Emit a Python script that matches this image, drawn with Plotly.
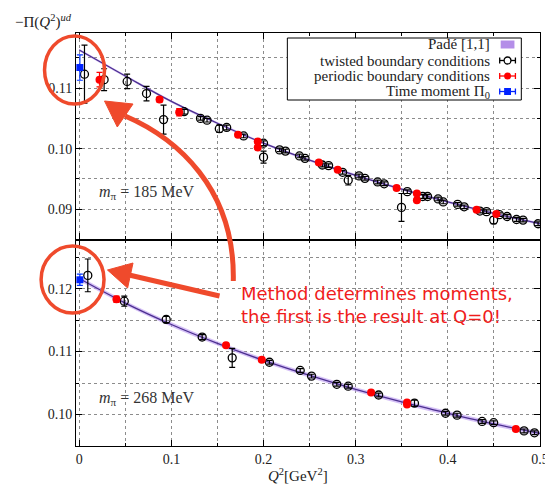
import plotly.graph_objects as go
from plotly.subplots import make_subplots

# ---------------- data ----------------
# m_pi = 185 MeV (top panel)
tw185_q2 = [0.0057, 0.027, 0.052, 0.073, 0.0915, 0.1138, 0.1316, 0.1387, 0.152, 0.160,
            0.1784, 0.200, 0.200, 0.2174, 0.2238, 0.239, 0.245, 0.2638, 0.2706, 0.2858,
            0.2919, 0.3036, 0.310, 0.3238, 0.3309, 0.3497, 0.356, 0.3728, 0.378, 0.3894,
            0.395, 0.4106, 0.4177, 0.4348, 0.442, 0.4497, 0.456, 0.4643, 0.4745, 0.4816, 0.4979]
tw185_val = [0.1123, 0.1114, 0.1111, 0.1091, 0.1048, 0.1061, 0.1050, 0.1047, 0.1033, 0.1035,
             0.1021, 0.1009, 0.0986, 0.0998, 0.0996, 0.0988, 0.0984, 0.0973, 0.0972, 0.0961,
             0.0948, 0.0955, 0.0951, 0.0945, 0.0942, 0.0903, 0.0929, 0.0921, 0.0921, 0.0917,
             0.0912, 0.0908, 0.0904, 0.0897, 0.0896, 0.0882, 0.0891, 0.0888, 0.0883, 0.0882, 0.0876]
tw185_err = [0.0048, 0.0018, 0.0012, 0.0012, 0.0024, 0.0004, 0.0003, 0.0003, 0.0006, 0.0004,
             0.0003, 0.0004, 0.0010, 0.0003, 0.0003, 0.0003, 0.0003, 0.0003, 0.0003, 0.0003,
             0.0008, 0.0003, 0.0003, 0.0003, 0.0003, 0.0023, 0.0003, 0.0003, 0.0003, 0.0003,
             0.0003, 0.0003, 0.0003, 0.0003, 0.0003, 0.0006, 0.0003, 0.0003, 0.0003, 0.0003, 0.0003]

pb185_q2 = [0.022, 0.0872, 0.1085, 0.1723, 0.1937, 0.1937, 0.260, 0.2805, 0.3444, 0.3664, 0.3664, 0.4312, 0.4526]
pb185_val = [0.1114, 0.1081, 0.1060, 0.1023, 0.1012, 0.1002, 0.0977, 0.0965, 0.0935, 0.0926, 0.0915, 0.0899, 0.0892]
pb185_err = [0.0012, 0.0004, 0.0006, 0.0003, 0.0003, 0.0003, 0.0003, 0.0003, 0.0003, 0.0003, 0.0003, 0.0003, 0.0003]

tm185_q2 = [0.0007]
tm185_val = [0.1134]
tm185_err = [0.0021]

# m_pi = 268 MeV (bottom panel)
tw268_q2 = [0.0093, 0.0489, 0.0944, 0.1334, 0.166, 0.2064, 0.2398, 0.2521, 0.2795, 0.2919,
            0.3249, 0.3638, 0.3975, 0.41, 0.4372, 0.4497, 0.4827, 0.494]
tw268_val = [0.1221, 0.1180, 0.1151, 0.1123, 0.1090, 0.1083, 0.1070, 0.1061, 0.1048, 0.1045,
             0.1031, 0.1018, 0.1002, 0.0999, 0.0989, 0.0987, 0.0974, 0.0971]
tw268_err = [0.0026, 0.0008, 0.0005, 0.0004, 0.0015, 0.0003, 0.0003, 0.0003, 0.0003, 0.0003,
             0.0003, 0.0005, 0.0003, 0.0003, 0.0003, 0.0003, 0.0003, 0.0003]

pb268_q2 = [0.0404, 0.1593, 0.1981, 0.3167, 0.3557, 0.3557, 0.4738]
pb268_val = [0.1183, 0.1110, 0.1087, 0.1035, 0.1019, 0.1016, 0.0977]
pb268_err = [0.0005, 0.0003, 0.0003, 0.0003, 0.0003, 0.0003, 0.0003]

tm268_q2 = [0.0007]
tm268_val = [0.1214]
tm268_err = [0.0009]

# Pade [1,1] curves
pade_q2 = [0.0, 0.05, 0.1, 0.15, 0.2, 0.25, 0.3, 0.35, 0.4, 0.45, 0.5]
pade185 = [0.1163, 0.1120, 0.1078, 0.1042, 0.1009, 0.0981, 0.0956, 0.0933, 0.0912, 0.0893, 0.0876]
pade185_band = [0.0002] * 11
pade268 = [0.1216, 0.1177, 0.1143, 0.1113, 0.1086, 0.1062, 0.1040, 0.1020, 0.1002, 0.0985, 0.0970]
pade268_band = [0.00035] * 11

x_ticks = [0, 0.1, 0.2, 0.3, 0.4, 0.5]
panel_labels = ["185", "268"]

# ---------------- figure ----------------
W, H = 553, 484
L, R, T, B = 68, 13, 25, 46
serif = "Liberation Serif"
RED_ANN = "#ef4a2c"

fig = make_subplots(rows=2, cols=1, shared_xaxes=True, vertical_spacing=0)

def add_panel(row, pq, pv, pb, twq, twv, twe, pbq, pbv, pbe, tmq, tmv, tme):
    up = [v + b for v, b in zip(pv, pb)]
    lo = [v - b for v, b in zip(pv, pb)]
    fig.add_trace(go.Scatter(x=pq, y=up, mode="lines", line=dict(width=0, shape="spline"),
                             hoverinfo="skip", showlegend=False), row=row, col=1)
    fig.add_trace(go.Scatter(x=pq, y=lo, mode="lines", line=dict(width=0, shape="spline"),
                             fill="tonexty", fillcolor="rgba(185,150,240,0.6)",
                             hoverinfo="skip", showlegend=False), row=row, col=1)
    fig.add_trace(go.Scatter(x=pq, y=pv, mode="lines",
                             line=dict(color="#4b2f8f", width=1.3, shape="spline"),
                             showlegend=False), row=row, col=1)
    fig.add_trace(go.Scatter(x=twq, y=twv, mode="markers",
                             error_y=dict(type="data", array=twe, color="black", thickness=1.2, width=3),
                             marker=dict(symbol="circle-open", size=8, color="black", line=dict(width=1.3)),
                             showlegend=False), row=row, col=1)
    fig.add_trace(go.Scatter(x=pbq, y=pbv, mode="markers",
                             error_y=dict(type="data", array=pbe, color="#ff0000", thickness=1.2, width=3),
                             marker=dict(symbol="circle", size=8, color="#ff0000"),
                             showlegend=False), row=row, col=1)
    fig.add_trace(go.Scatter(x=tmq, y=tmv, mode="markers",
                             error_y=dict(type="data", array=tme, color="#0033ff", thickness=1.2, width=3),
                             marker=dict(symbol="square", size=7, color="#0022ff"),
                             showlegend=False), row=row, col=1)

add_panel(1, pade_q2, pade185, pade185_band, tw185_q2, tw185_val, tw185_err,
          pb185_q2, pb185_val, pb185_err, tm185_q2, tm185_val, tm185_err)
add_panel(2, pade_q2, pade268, pade268_band, tw268_q2, tw268_val, tw268_err,
          pb268_q2, pb268_val, pb268_err, tm268_q2, tm268_val, tm268_err)

grid = dict(showgrid=True, gridcolor="#8c8c8c", griddash="dot", gridwidth=1)
frame = dict(showline=True, linecolor="black", linewidth=1.1, mirror="allticks",
             ticks="inside", ticklen=6, tickcolor="black", tickwidth=1,
             zeroline=False, tickfont=dict(family=serif, size=14, color="#222"))

xcommon = dict(range=[-0.0035, 0.5], tickmode="array", tickvals=x_ticks,
               ticktext=["0", "0.1", "0.2", "0.3", "0.4", "0.5"],
               minor=dict(dtick=0.05, tick0=0, showgrid=True, gridcolor="#8c8c8c",
                          griddash="dot", ticks="inside", ticklen=3, tickcolor="black"),
               **grid, **frame)
fig.update_xaxes(**xcommon)
fig.update_xaxes(showticklabels=False, row=1, col=1)

ycommon = dict(tick0=0, dtick=0.01, tickformat=".2f",
               minor=dict(dtick=0.005, tick0=0, showgrid=True, gridcolor="#8c8c8c",
                          griddash="dot", ticks="inside", ticklen=3, tickcolor="black"),
               **grid, **frame)
fig.update_yaxes(range=[0.0850, 0.1191], **ycommon, row=1, col=1)
fig.update_yaxes(range=[0.0950, 0.1278], **ycommon, row=2, col=1)

fig.update_layout(width=W, height=H, margin=dict(l=L, r=R, t=T, b=B),
                  paper_bgcolor="white", plot_bgcolor="white", showlegend=False)

pw, ph = W - L - R, H - T - B
def P(px, py):
    return (px - L) / pw, (H - B - py) / ph

shapes = []
annotations = []

# axis titles
annotations.append(dict(xref="paper", yref="paper", x=P(4, 0)[0], y=P(0, 14)[1],
                        xanchor="left", yanchor="middle", showarrow=False,
                        text="−Π(<i>Q</i><sup>2</sup>)<sup><i>ud</i></sup>",
                        font=dict(family=serif, size=15, color="#222")))
annotations.append(dict(xref="paper", yref="paper", x=P(294, 0)[0], y=P(0, 467)[1],
                        xanchor="center", yanchor="middle", showarrow=False,
                        text="<i>Q</i><sup>2</sup>[GeV<sup>2</sup>]",
                        font=dict(family=serif, size=15, color="#222")))
# panel labels
for lab, py in zip(panel_labels, [184, 390]):
    annotations.append(dict(xref="paper", yref="paper", x=P(89, 0)[0], y=P(0, py)[1],
                            xanchor="left", yanchor="middle", showarrow=False,
                            text="<i>m</i><sub>π</sub> = " + lab + " MeV",
                            font=dict(family=serif, size=16, color="#333")))

# legend (manual, symbols on the right)
x0, y0 = P(283, 92)
x1, y1 = P(521, 30)
shapes.append(dict(type="rect", xref="paper", yref="paper", x0=x0, y0=y0, x1=x1, y1=y1,
                   line=dict(color="black", width=1), fillcolor="white", layer="above"))
leg_rows = [36.5, 52.5, 68, 83.5]
leg_text = ["Padé [1,1]", "twisted boundary conditions", "periodic boundary conditions",
            "Time moment Π<sub>0</sub>"]
for t, ry in zip(leg_text, leg_rows):
    annotations.append(dict(xref="paper", yref="paper", x=P(491, 0)[0], y=P(0, ry)[1],
                            xanchor="right", yanchor="middle", showarrow=False, text=t,
                            font=dict(family=serif, size=15, color="#222")))
sx = 507
a, b = P(sx - 7, leg_rows[0] + 4), P(sx + 7, leg_rows[0] - 4)
shapes.append(dict(type="rect", xref="paper", yref="paper", x0=a[0], y0=a[1], x1=b[0], y1=b[1],
                   line=dict(width=0), fillcolor="#b48ee8"))
for ry, col, kind in [(leg_rows[1], "black", "open"), (leg_rows[2], "#ff0000", "dot"),
                      (leg_rows[3], "#0022ff", "sq")]:
    l0, l1 = P(sx - 8, ry), P(sx + 8, ry)
    shapes.append(dict(type="line", xref="paper", yref="paper", x0=l0[0], y0=l0[1], x1=l1[0], y1=l1[1],
                       line=dict(color=col, width=1.3)))
    for ex in (sx - 8, sx + 8):
        c0, c1 = P(ex, ry - 3), P(ex, ry + 3)
        shapes.append(dict(type="line", xref="paper", yref="paper", x0=c0[0], y0=c0[1], x1=c1[0], y1=c1[1],
                           line=dict(color=col, width=1.3)))
    r = 3.5
    q0, q1 = P(sx - r, ry + r), P(sx + r, ry - r)
    if kind == "open":
        shapes.append(dict(type="circle", xref="paper", yref="paper", x0=q0[0], y0=q0[1], x1=q1[0], y1=q1[1],
                           line=dict(color=col, width=1.3), fillcolor="white"))
    elif kind == "dot":
        shapes.append(dict(type="circle", xref="paper", yref="paper", x0=q0[0], y0=q0[1], x1=q1[0], y1=q1[1],
                           line=dict(color=col, width=0), fillcolor=col))
    else:
        shapes.append(dict(type="rect", xref="paper", yref="paper", x0=q0[0], y0=q0[1], x1=q1[0], y1=q1[1],
                           line=dict(color=col, width=0), fillcolor=col))

# red annotation circles
for cx, cy, rx, ry in [(66.5, 62, 30.5, 34), (64.5, 271.5, 32, 33.5)]:
    a, b = P(cx - rx, cy + ry), P(cx + rx, cy - ry)
    shapes.append(dict(type="circle", xref="paper", yref="paper", x0=a[0], y0=a[1], x1=b[0], y1=b[1],
                       line=dict(color=RED_ANN, width=3.5)))

# curved arrow
p0, c1, c2, p3 = P(228, 273), P(230, 180), P(170, 130), P(118, 108)
shapes.append(dict(type="path", xref="paper", yref="paper",
                   path=f"M {p0[0]},{p0[1]} C {c1[0]},{c1[1]} {c2[0]},{c2[1]} {p3[0]},{p3[1]}",
                   line=dict(color=RED_ANN, width=5)))
t0, t1, t2 = P(97, 93), P(126, 96), P(110, 119)
shapes.append(dict(type="path", xref="paper", yref="paper",
                   path=f"M {t0[0]},{t0[1]} L {t1[0]},{t1[1]} L {t2[0]},{t2[1]} Z",
                   line=dict(color=RED_ANN, width=1), fillcolor=RED_ANN))
# straight arrow
s0, s1 = P(214, 288), P(122, 267)
shapes.append(dict(type="line", xref="paper", yref="paper", x0=s0[0], y0=s0[1], x1=s1[0], y1=s1[1],
                   line=dict(color=RED_ANN, width=5)))
t0, t1, t2 = P(100, 262), P(126, 255), P(120.5, 280)
shapes.append(dict(type="path", xref="paper", yref="paper",
                   path=f"M {t0[0]},{t0[1]} L {t1[0]},{t1[1]} L {t2[0]},{t2[1]} Z",
                   line=dict(color=RED_ANN, width=1), fillcolor=RED_ANN))

# red message
annotations.append(dict(xref="paper", yref="paper", x=P(234, 0)[0], y=P(0, 297)[1],
                        xanchor="left", yanchor="middle", showarrow=False, align="left",
                        text="Method determines moments,<br>the first is the result at Q=0!",
                        font=dict(family="DejaVu Sans", size=18, color="#f01c1c")))

fig.update_layout(shapes=shapes, annotations=annotations)
fig.write_html("out.html")
